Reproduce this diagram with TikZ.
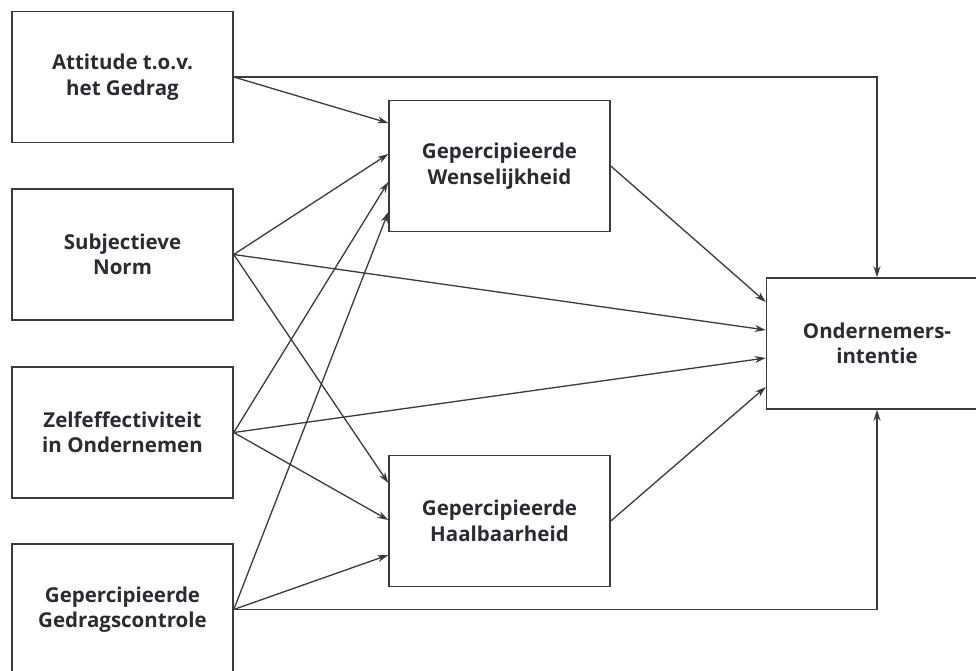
\documentclass[tikz,border=0pt]{standalone}
\usepackage{fontspec}
\setmainfont{Open Sans}
\usetikzlibrary{arrows.meta}
\definecolor{ln}{HTML}{3A3A40}
\definecolor{tx}{HTML}{2B2B33}
\begin{document}
\begin{tikzpicture}[x=1pt,y=-1pt,
  box/.style={draw=ln,line width=1.5pt,minimum width=221pt,minimum height=131pt,
    align=center,inner sep=0pt,text=tx,font=\fontsize{20.5}{25.5}\selectfont\bfseries},
  arr/.style={draw=ln,line width=1.3pt,-{Stealth[length=11pt,width=7pt]}}]
\useasboundingbox[clip] (0,0) rectangle (976,671);
\fill[white] (0,0) rectangle (976,671);
\node[box] (att) at (122.5,77) {Attitude t.o.v.\\het Gedrag};
\node[box] (sub) at (122.5,254.5) {Subjectieve\\Norm};
\node[box] (zel) at (122.5,432.5) {Zelfeffectiviteit\\in Ondernemen};
\node[box] (ged) at (122.5,609.5) {Gepercipieerde\\Gedragscontrole};
\node[box] (wen) at (499.5,166) {Gepercipieerde\\Wenselijkheid};
\node[box] (haa) at (499.5,521) {Gepercipieerde\\Haalbaarheid};
\node[box] (ond) at (877,343.5) {Ondernemers-\\intentie};
% arrow end points on box edges (yshift is upward)
\coordinate (w1) at ([yshift=43pt]wen.west);
\coordinate (w2) at ([yshift=12pt]wen.west);
\coordinate (w3) at ([yshift=-16pt]wen.west);
\coordinate (w4) at ([yshift=-46pt]wen.west);
\coordinate (h1) at ([yshift=38pt]haa.west);
\coordinate (h2) at ([yshift=1pt]haa.west);
\coordinate (h3) at ([yshift=-34pt]haa.west);
\coordinate (o1) at ([yshift=41.5pt]ond.west);
\coordinate (o2) at ([yshift=13.5pt]ond.west);
\coordinate (o3) at ([yshift=-14.5pt]ond.west);
\coordinate (o4) at ([yshift=-43.5pt]ond.west);
% to Wenselijkheid
\draw[arr] (att.east) -- (w1);
\draw[arr] (sub.east) -- (w2);
\draw[arr] (zel.east) -- (w3);
\draw[arr] (ged.east) -- (w4);
% to Haalbaarheid
\draw[arr] (sub.east) -- (h1);
\draw[arr] (zel.east) -- (h2);
\draw[arr] (ged.east) -- (h3);
% to Ondernemersintentie
\draw[arr] (wen.east) -- (o1);
\draw[arr] (sub.east) -- (o2);
\draw[arr] (zel.east) -- (o3);
\draw[arr] (haa.east) -- (o4);
\draw[arr] (att.east) -| (ond.north);
\draw[arr] (ged.east) -| (ond.south);
\end{tikzpicture}
\end{document}
